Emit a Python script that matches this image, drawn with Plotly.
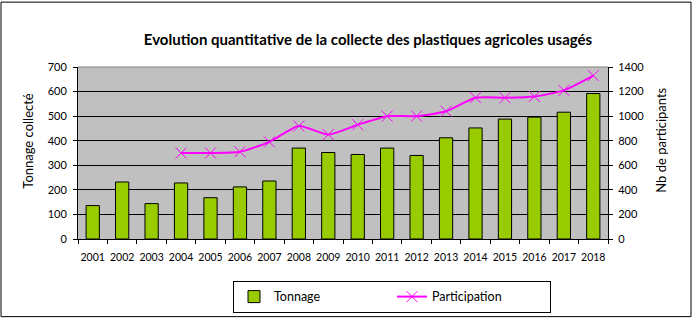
import plotly.graph_objects as go

years = [str(y) for y in range(2001, 2019)]
tonnage = [136, 232, 144, 228, 168, 212, 236, 370, 352, 344, 370, 340, 412, 452, 488, 496, 516, 592]
participation = [None, None, None, 700, 700, 710, 790, 920, 850, 930, 1000, 1000, 1040, 1150, 1150, 1160, 1210, 1330]

W, H = 694, 325
L, R, T, B = 78, 608, 67, 242
pw, ph = R - L, B - T

def px(x):
    return (x - L) / pw

def py(y):
    return (B - y) / ph

font = "Lato, 'Open Sans', sans-serif"

fig = go.Figure()
fig.add_trace(go.Bar(
    x=years, y=tonnage, name="Tonnage",
    marker=dict(color="#99CC00", line=dict(color="black", width=1)),
    width=0.45, yaxis="y",
))
fig.add_trace(go.Scatter(
    x=years, y=participation, name="Participation", mode="lines+markers",
    line=dict(color="#FF00FF", width=2, shape="spline", smoothing=0.6),
    marker=dict(symbol="x-thin", size=11, line=dict(color="#FF00FF", width=1)),
    yaxis="y2", connectgaps=False,
))

fig.update_layout(
    width=W, height=H,
    margin=dict(l=L, r=W - R, t=T, b=H - B, pad=0),
    paper_bgcolor="white", plot_bgcolor="#C0C0C0",
    font=dict(family=font, size=11, color="black"),
    showlegend=True,
    bargap=0.55,
    title=dict(text="<b>Evolution quantitative de la collecte des plastiques agricoles usagés</b>",
               x=px(368), xref="paper", xanchor="center",
               y=1 - 40 / H, yref="container", yanchor="middle",
               font=dict(family=font, size=15, color="black")),
    xaxis=dict(type="category", range=[-0.5, 17.5], tickson="boundaries", ticks="outside", ticklen=4,
               tickcolor="black", showline=True, linecolor="black", linewidth=1,
               showgrid=False, tickfont=dict(size=10.5), tickangle=0, mirror=False,
               ticklabelstandoff=8),
    yaxis=dict(range=[0, 700], dtick=100, ticks="outside", ticklen=4, tickcolor="black",
               showline=True, linecolor="black", linewidth=1,
               showgrid=True, gridcolor="black", gridwidth=1, zeroline=False,
               tickfont=dict(size=11), ticklabelstandoff=4),
    yaxis2=dict(range=[0, 1400], dtick=200, overlaying="y", side="right",
                ticks="outside", ticklen=4, tickcolor="black",
                showline=True, linecolor="black", linewidth=1,
                showgrid=False, zeroline=False, tickfont=dict(size=11), ticklabelstandoff=3),
    legend=dict(orientation="h", x=px(392), y=py(301), xanchor="center", yanchor="middle",
                bordercolor="black", borderwidth=1, bgcolor="white",
                font=dict(size=12.5), entrywidth=113, itemwidth=30,
                traceorder="normal"),
)

# top border of plot area (light grey)
fig.add_shape(type="line", xref="paper", yref="paper", x0=0, x1=1, y0=1, y1=1,
              line=dict(color="#808080", width=1))
# chart outer border
fig.add_shape(type="rect", xref="paper", yref="paper",
              x0=px(1), x1=px(691), y0=py(321), y1=py(1),
              line=dict(color="black", width=1), fillcolor="rgba(0,0,0,0)")

fig.add_annotation(text="Tonnage collecté", xref="paper", yref="paper",
                   x=px(28), y=py(142), textangle=-90, showarrow=False,
                   xanchor="center", yanchor="middle", font=dict(size=13))
fig.add_annotation(text="Nb de participants", xref="paper", yref="paper",
                   x=px(661), y=py(142), textangle=-90, showarrow=False,
                   xanchor="center", yanchor="middle", font=dict(size=13))

fig.write_html("out.html")
